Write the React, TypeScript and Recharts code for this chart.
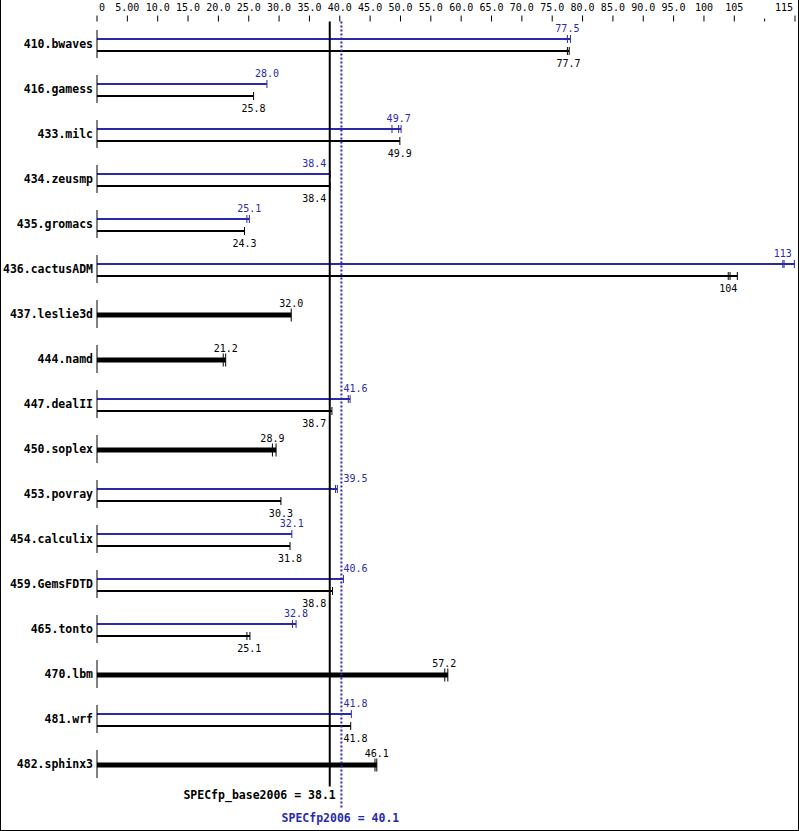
import { BarChart, Bar, XAxis, YAxis, ReferenceLine } from 'recharts';

const BENCHMARKS = [
  '410.bwaves', '416.gamess', '433.milc', '434.zeusmp', '435.gromacs', '436.cactusADM',
  '437.leslie3d', '444.namd', '447.dealII', '450.soplex', '453.povray', '454.calculix',
  '459.GemsFDTD', '465.tonto', '470.lbm', '481.wrf', '482.sphinx3',
];

// peak = blue (null where only base was run), base = black
const PEAK = [77.5, 28.0, 49.7, 38.4, 25.1, 113, null, null, 41.6, null, 39.5, 32.1, 40.6, 32.8, null, 41.8, null];
const BASE = [77.7, 25.8, 49.9, 38.4, 24.3, 104, 32.0, 21.2, 38.7, 28.9, 30.3, 31.8, 38.8, 25.1, 57.2, 41.8, 46.1];

// individual run marks at the end of each bar
const PEAK_RUNS = [
  [77.5, 78.0], [28.0], [48.6, 49.7, 50.1], [38.4], [24.7, 25.1], [113, 113.2, 114.9],
  [], [], [41.4, 41.7], [], [39.3, 39.6], [32.1], [40.6], [32.2, 32.8], [], [41.9], [],
];
const BASE_RUNS = [
  [77.5, 77.8], [25.8], [49.9], [38.4], [24.3], [104, 104.3, 105.5],
  [32.0], [20.8, 21.2], [38.7], [28.9, 29.5], [30.3], [31.8], [38.8], [24.7, 25.2],
  [57.3, 57.8], [41.8], [45.8, 46.1],
];

const TICKS = [0, 5, 10, 15, 20, 25, 30, 35, 40, 45, 50, 55, 60, 65, 70, 75, 80, 85, 90, 95, 100, 105, 110, 115];
const TICK_LABELS = [
  '0', '5.00', '10.0', '15.0', '20.0', '25.0', '30.0', '35.0', '40.0', '45.0', '50.0', '55.0',
  '60.0', '65.0', '70.0', '75.0', '80.0', '85.0', '90.0', '95.0', '100', '105', '', '115',
];

const BASE_SCORE = 38.1;
const PEAK_SCORE = 40.1;

const BLUE = '#2a2aa8';
const FONT = '"DejaVu Sans Mono", monospace';

const data = BENCHMARKS.map((name, i) => ({
  name,
  peak: PEAK[i],
  base: BASE[i],
  peakRuns: PEAK_RUNS[i],
  baseRuns: BASE_RUNS[i],
}));

// value labels that would sit on the two score lines get pushed aside
function valueLabel(x0: number, ppu: number, value: number, y: number, color: string) {
  const cx = x0 + value * ppu;
  const lo = x0 + BASE_SCORE * ppu - 1;
  const hi = x0 + PEAK_SCORE * ppu + 2;
  let tx = cx;
  let anchor: 'middle' | 'start' | 'end' = 'middle';
  if (cx - 12 < hi && cx + 12 > lo) {
    if (value < (BASE_SCORE + PEAK_SCORE) / 2) {
      tx = lo - 1;
      anchor = 'end';
    } else {
      tx = hi + 1;
      anchor = 'start';
    }
  }
  const txt = value >= 100 ? value.toFixed(0) : value.toFixed(1);
  return (
    <text x={tx} y={y} textAnchor={anchor} fontFamily={FONT} fontSize={10} fill={color}>
      {txt}
    </text>
  );
}

function PeakShape(props: any) {
  const { x, y, width, height, payload } = props;
  if (payload.peak == null) return null;
  const ppu = width / payload.peak;
  const cy = Math.round(y + height / 2);
  const runs: number[] = payload.peakRuns;
  const end = Math.max(payload.peak, ...runs);
  return (
    <g>
      <line x1={x} x2={x + end * ppu} y1={cy} y2={cy} stroke={BLUE} strokeWidth={2} />
      {runs.map((r, k) => (
        <line key={k} x1={x + r * ppu} x2={x + r * ppu} y1={cy - 4} y2={cy + 4} stroke={BLUE} strokeWidth={1} />
      ))}
      {valueLabel(x, ppu, payload.peak, cy - 7, BLUE)}
    </g>
  );
}

function BaseShape(props: any) {
  const { x, y, width, height, payload } = props;
  if (payload.base == null) return null;
  const ppu = width / payload.base;
  const runs: number[] = payload.baseRuns;
  const end = Math.max(payload.base, ...runs);
  const single = payload.peak == null;
  const cy = Math.round(single ? y : y + height / 2);
  const half = single ? 6.5 : 4;
  return (
    <g>
      <line x1={x} x2={x + end * ppu} y1={cy} y2={cy} stroke="#000" strokeWidth={single ? 5 : 2} />
      {runs.map((r, k) => (
        <line key={k} x1={x + r * ppu} x2={x + r * ppu} y1={cy - half} y2={cy + half} stroke="#000" strokeWidth={1} />
      ))}
      {valueLabel(x, ppu, payload.base, single ? cy - 8 : cy + 16, '#000')}
    </g>
  );
}

function TopTick(props: any) {
  const { x, y, payload, index } = props;
  const label = TICK_LABELS[index] ?? '';
  const short = label === '';
  const last = index === TICKS.length - 1;
  let tx = x;
  let anchor: 'middle' | 'end' = 'middle';
  if (payload.value === 0) tx = x + 5;
  if (last) {
    tx = x - 2;
    anchor = 'end';
  }
  return (
    <g>
      <line x1={x} x2={x} y1={short ? y - 3 : y - 6} y2={y} stroke="#000" strokeWidth={1} />
      <text x={tx} y={11} textAnchor={anchor} fontFamily={FONT} fontSize={10} fill="#000">
        {label}
      </text>
    </g>
  );
}

function NameTick(props: any) {
  const { x, y, payload } = props;
  return (
    <g>
      <line x1={x + 4} x2={x + 4} y1={y - 14} y2={y + 14} stroke="#000" strokeWidth={1} />
      <text x={x} y={y} dy={4} textAnchor="end" fontFamily={FONT} fontWeight="bold" fontSize={11.5} fill="#000">
        {payload.value}
      </text>
    </g>
  );
}

function BaseLine(props: any) {
  const { x1, y1, y2 } = props;
  const lx = x1 + 1.5;
  return (
    <g>
      <line x1={lx} x2={lx} y1={y1} y2={y2} stroke="#000" strokeWidth={2} />
      <text x={lx + 6} y={y2 + 12} textAnchor="end" fontFamily={FONT} fontWeight="bold" fontSize={11.5} fill="#000">
        {`SPECfp_base2006 = ${BASE_SCORE}`}
      </text>
    </g>
  );
}

function PeakLine(props: any) {
  const { x1, y1, y2 } = props;
  return (
    <g>
      <line x1={x1 + 1} x2={x1 + 1} y1={y1} y2={y2 + 22} stroke={BLUE} strokeWidth={2} strokeDasharray="2 2" />
      <text x={x1} y={y2 + 35} textAnchor="middle" fontFamily={FONT} fontWeight="bold" fontSize={11.5} fill={BLUE}>
        {`SPECfp2006 = ${PEAK_SCORE}`}
      </text>
    </g>
  );
}

export default function App() {
  return (
    <div style={{ position: 'absolute', top: 0, left: 0, width: 799, height: 831, background: '#fff' }}>
      <BarChart
        width={799}
        height={831}
        data={data}
        layout="vertical"
        margin={{ top: 0, right: 4, bottom: 44.5, left: 0 }}
        barSize={12}
        barGap={0}
      >
        <XAxis
          type="number"
          orientation="top"
          domain={[0, 115]}
          ticks={TICKS}
          interval={0}
          height={21.5}
          axisLine={false}
          tickLine={false}
          tickSize={0}
          tickMargin={0}
          tick={<TopTick />}
        />
        <YAxis
          type="category"
          dataKey="name"
          width={97}
          interval={0}
          axisLine={false}
          tickLine={false}
          tickSize={0}
          tickMargin={4}
          tick={<NameTick />}
        />
        <Bar dataKey="peak" shape={<PeakShape />} isAnimationActive={false} />
        <Bar dataKey="base" shape={<BaseShape />} isAnimationActive={false} />
        <ReferenceLine x={BASE_SCORE} shape={<BaseLine />} />
        <ReferenceLine x={PEAK_SCORE} shape={<PeakLine />} />
      </BarChart>
      <div
        style={{
          position: 'absolute',
          top: 0,
          left: 0,
          width: 799,
          height: 831,
          boxSizing: 'border-box',
          borderLeft: '1px solid #000',
          borderRight: '1px solid #000',
          borderBottom: '1px solid #000',
          pointerEvents: 'none',
        }}
      />
    </div>
  );
}
